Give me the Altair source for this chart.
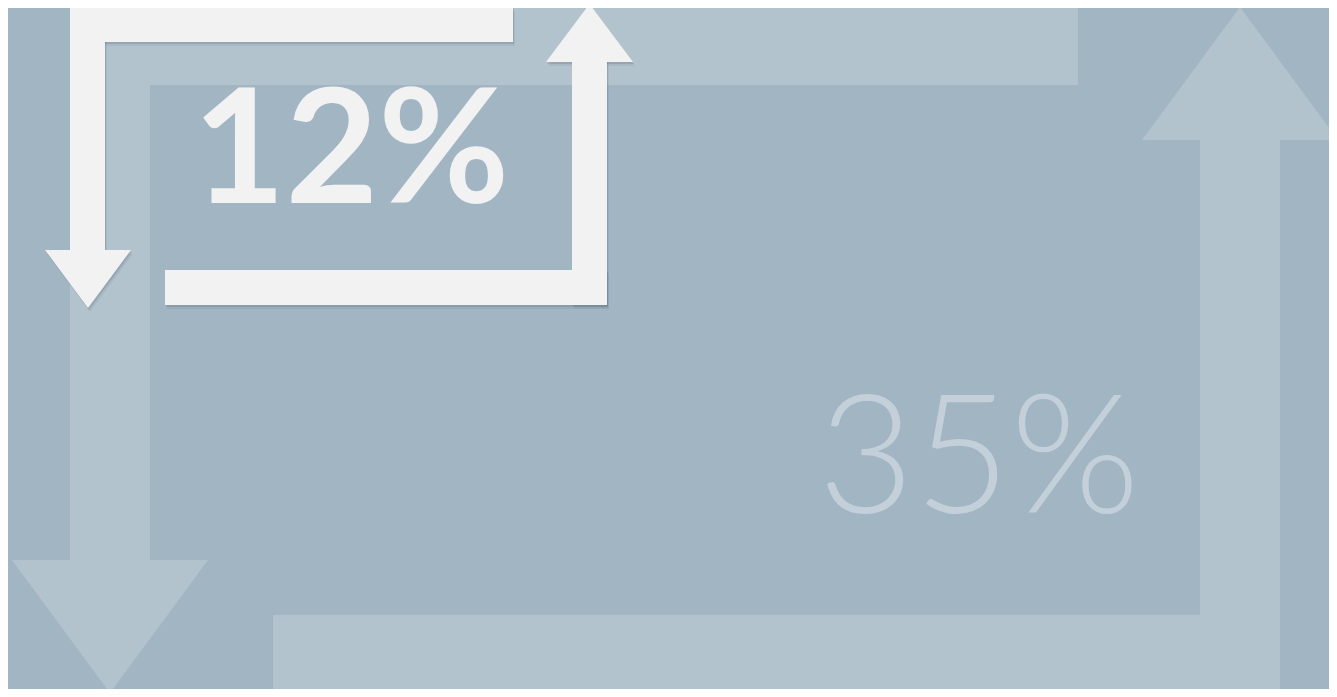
import altair as alt
import pandas as pd

# Visible window of the design (page has an 8px margin)
VIEW_X = [8, 1329]
VIEW_Y = [8, 689]
W = VIEW_X[1] - VIEW_X[0]
H = VIEW_Y[1] - VIEW_Y[0]

BG = "#A1B5C3"
LIGHT = "#B3C3CE"
WHITE = "#F2F2F2"
TEXT_LIGHT = "#C3D0D9"
SHADOW = "#5A7080"

# Values shown
labels = ["12%", "35%"]
label_x = [351, 979]
label_y = [203, 513]

# Large (light) arrow loop: bars as [x, x2, y, y2]
light_bars = [
    [70, 1078, 5, 85],
    [70, 150, 5, 566],
    [273, 1280, 615, 695],
    [1200, 1280, 134, 695],
]
# arrowheads: [x_left, x_right, base_y, tip_x, tip_y]
light_heads = [
    [12, 208, 560, 110, 693],
    [1142, 1338, 140, 1240, 7],
]

# Small (white) arrow loop
white_bars = [
    [70, 513, 7, 42],
    [70, 105, 7, 254],
    [165, 607, 270, 305],
    [572, 607, 58, 305],
]
white_heads = [
    [45, 131, 250, 88, 308],
    [546, 633, 62, 589.5, 4],
]

xs = alt.Scale(domain=VIEW_X, nice=False, zero=False)
ys = alt.Scale(domain=VIEW_Y, nice=False, zero=False, reverse=True)


def bars_df(bars, dx=0, dy=0):
    return pd.DataFrame(
        [{"x": b[0] + dx, "x2": b[1] + dx, "y": b[2] + dy, "y2": b[3] + dy} for b in bars]
    )


def heads_df(heads, dx=0, dy=0):
    rows = []
    for i, h in enumerate(heads):
        xl, xr, base, tx, ty = h
        rows.append({"id": i, "x": xl + dx, "y": base + dy, "y2": base + dy})
        rows.append({"id": i, "x": tx + dx, "y": base + dy, "y2": ty + dy})
        rows.append({"id": i, "x": xr + dx, "y": base + dy, "y2": base + dy})
    return pd.DataFrame(rows)


def rect_layer(bars, color, dx=0, dy=0, opacity=1.0):
    return alt.Chart(bars_df(bars, dx, dy)).mark_rect(
        color=color, opacity=opacity, clip=True
    ).encode(
        x=alt.X("x:Q", scale=xs, axis=None),
        x2="x2:Q",
        y=alt.Y("y:Q", scale=ys, axis=None),
        y2="y2:Q",
    )


def head_layer(heads, color, dx=0, dy=0, opacity=1.0):
    return alt.Chart(heads_df(heads, dx, dy)).mark_area(
        color=color, opacity=opacity, orient="vertical", clip=True
    ).encode(
        x=alt.X("x:Q", scale=xs, axis=None),
        y=alt.Y("y:Q", scale=ys, axis=None),
        y2="y2:Q",
        detail="id:N",
    )


text_df = pd.DataFrame({"label": labels, "x": label_x, "y": label_y})


def text_layer(idx, color, size, weight):
    d = text_df.iloc[[idx]]
    return alt.Chart(d).mark_text(
        font="Lato", fontSize=size, fontWeight=weight, color=color,
        align="center", baseline="alphabetic",
    ).encode(
        x=alt.X("x:Q", scale=xs, axis=None),
        y=alt.Y("y:Q", scale=ys, axis=None),
        text="label:N",
    )


layers = [
    rect_layer(light_bars, LIGHT),
    head_layer(light_heads, LIGHT),
    text_layer(1, TEXT_LIGHT, 166, 300),
    rect_layer(white_bars, SHADOW, 2, 4, 0.12),
    head_layer(white_heads, SHADOW, 2, 4, 0.12),
    rect_layer(white_bars, SHADOW, 1, 2, 0.25),
    head_layer(white_heads, SHADOW, 1, 2, 0.25),
    rect_layer(white_bars, WHITE),
    head_layer(white_heads, WHITE),
    text_layer(0, WHITE, 160, "bold"),
]

chart = alt.layer(*layers).properties(
    width=W, height=H, padding=0, autosize=alt.AutoSizeParams(type="none")
).configure(background=BG).configure_view(strokeWidth=0)

chart.save("out.html", embed_options={"renderer": "svg", "actions": False})
